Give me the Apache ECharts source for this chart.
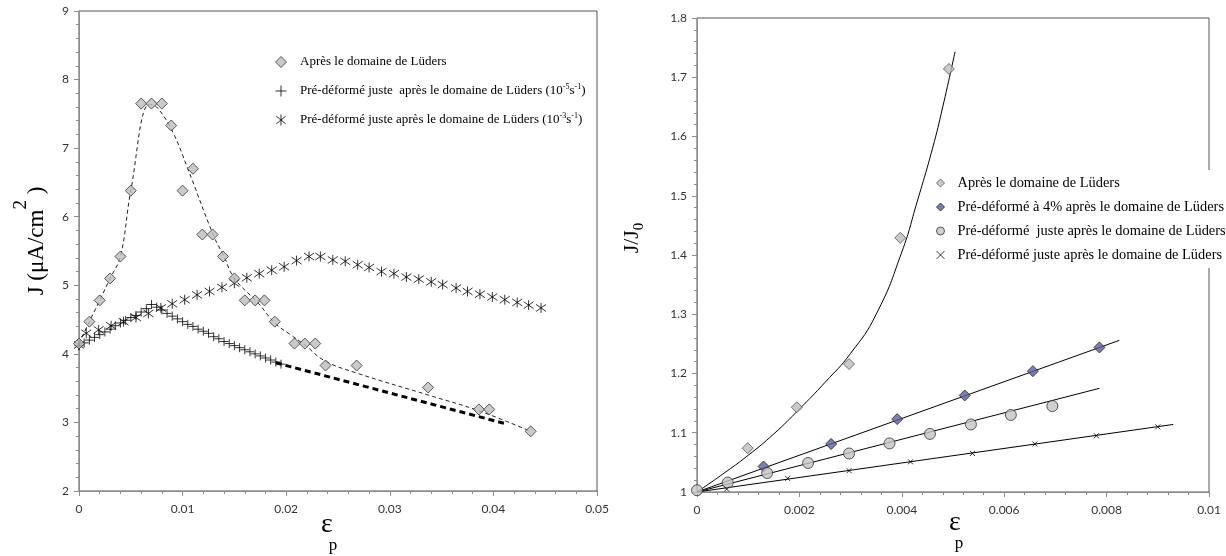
<!DOCTYPE html>
<html><head><meta charset="utf-8">
<script src="https://cdn.jsdelivr.net/npm/echarts@6.0.0/dist/echarts.min.js"></script>
<style>html,body{margin:0;padding:0;background:#fff}#c{width:1226px;height:556px}</style>
</head><body><div id="c"></div>
<script>
// ---------- Left chart data ----------
const leftAfterX = [0, 0.001, 0.002, 0.003, 0.004, 0.005, 0.006, 0.007, 0.008, 0.0089, 0.010, 0.011, 0.0119, 0.0129, 0.0139, 0.015, 0.016, 0.017, 0.0179, 0.0189, 0.0208, 0.0218, 0.0228, 0.0238, 0.0268, 0.0337, 0.0386, 0.0396, 0.0436];
const leftAfterY = [4.15, 4.47, 4.78, 5.10, 5.42, 6.38, 7.65, 7.65, 7.65, 7.33, 6.38, 6.70, 5.74, 5.74, 5.42, 5.10, 4.78, 4.78, 4.78, 4.47, 4.15, 4.15, 4.15, 3.83, 3.83, 3.51, 3.19, 3.19, 2.87];
const leftTrendX = [0, 0.001, 0.002, 0.003, 0.004, 0.005, 0.0068, 0.0075, 0.009, 0.0105, 0.013, 0.014, 0.015, 0.0173, 0.0189, 0.0205, 0.0218, 0.0237, 0.0268, 0.0337, 0.0386, 0.0436];
const leftTrendY = [4.15, 4.47, 4.78, 5.10, 5.42, 6.38, 7.64, 7.60, 7.25, 6.70, 5.72, 5.42, 5.10, 4.74, 4.45, 4.27, 4.13, 3.90, 3.72, 3.40, 3.17, 2.87];
const leftSlowX = [0,0.0005,0.001,0.0015,0.002,0.0025,0.003,0.0035,0.004,0.0045,0.005,0.0055,0.006,0.0065,0.007,0.0075,0.008,0.0085,0.009,0.0095,0.01,0.0105,0.011,0.0115,0.012,0.0125,0.013,0.0135,0.014,0.0145,0.015,0.0155,0.016,0.0165,0.017,0.0175,0.018,0.0185,0.019,0.0195];
const leftSlowY = [4.12,4.16,4.20,4.24,4.28,4.32,4.36,4.41,4.45,4.49,4.53,4.56,4.61,4.66,4.72,4.68,4.64,4.59,4.55,4.51,4.47,4.43,4.40,4.36,4.33,4.30,4.25,4.22,4.18,4.15,4.12,4.09,4.06,4.03,4.00,3.97,3.94,3.91,3.88,3.85];
const leftSlowExtX = [0.019, 0.0412];
const leftSlowExtY = [3.87, 2.98];
const leftFastX = [0, 0.0007, 0.0019, 0.0031, 0.0043, 0.0055, 0.0067, 0.0079, 0.0090, 0.0102, 0.0114, 0.0126, 0.0138, 0.0150, 0.0162, 0.0174, 0.0186, 0.0198, 0.0210, 0.0222, 0.0233, 0.0245, 0.0257, 0.0269, 0.0280, 0.0292, 0.0304, 0.0316, 0.0328, 0.0340, 0.0351, 0.0364, 0.0375, 0.0387, 0.0399, 0.0411, 0.0423, 0.0434, 0.0446];
const leftFastY = [4.13, 4.30, 4.35, 4.41, 4.47, 4.53, 4.59, 4.67, 4.73, 4.79, 4.86, 4.91, 4.97, 5.03, 5.11, 5.17, 5.22, 5.27, 5.36, 5.42, 5.42, 5.37, 5.35, 5.30, 5.26, 5.20, 5.17, 5.12, 5.09, 5.05, 5.01, 4.96, 4.91, 4.87, 4.83, 4.79, 4.75, 4.71, 4.67];

// ---------- Right chart data ----------
const rAfterX = [0.00099, 0.00195, 0.00297, 0.00397, 0.00492];
const rAfterY = [1.074, 1.143, 1.216, 1.429, 1.714];
const rAfterFitX = [0, 0.0005, 0.001, 0.0015, 0.002, 0.0025, 0.003, 0.0035, 0.004, 0.0043, 0.0046, 0.0048, 0.00504];
const rAfterFitY = [1.0, 1.030, 1.062, 1.098, 1.140, 1.185, 1.234, 1.300, 1.405, 1.490, 1.580, 1.650, 1.743];
const rPre4X = [0.0013, 0.00262, 0.00391, 0.00523, 0.00656, 0.00786];
const rPre4Y = [1.043, 1.081, 1.123, 1.163, 1.204, 1.244];
const rPre4FitX = [0, 0.00825];
const rPre4FitY = [1.0, 1.256];
const rJustX = [0, 0.0006, 0.00137, 0.00217, 0.00297, 0.00376, 0.00455, 0.00535, 0.00613, 0.00694];
const rJustY = [1.003, 1.016, 1.032, 1.049, 1.065, 1.082, 1.098, 1.114, 1.130, 1.145];
const rJustFitX = [0, 0.00786];
const rJustFitY = [1.0, 1.175];
const rFastX = [0.00058, 0.00177, 0.00297, 0.00417, 0.00538, 0.0066, 0.0078, 0.0090];
const rFastY = [1.005, 1.023, 1.036, 1.051, 1.065, 1.081, 1.095, 1.110];
const rFastFitX = [0, 0.0093];
const rFastFitY = [1.0, 1.114];

// ---------- Texts ----------
const legendText = {
  L1: '{t|Après le domaine de Lüders}',
  L2: '{t|Pré-déformé juste  après le domaine de Lüders (10}{s|-5}{t|s}{s|-1}{t|)}',
  L3: '{t|Pré-déformé juste après le domaine de Lüders (10}{s|-3}{t|s}{s|-1}{t|)}',
  R1: '{t|Après le domaine de Lüders}',
  R2: '{t|Pré-déformé à 4% après le domaine de Lüders}',
  R3: '{t|Pré-déformé  juste après le domaine de Lüders}',
  R4: '{t|Pré-déformé juste après le domaine de Lüders}'
};

const pairs = (xs, ys) => xs.map((x, i) => [x, ys[i]]);
const SERIF = 'Liberation Serif';
const AX = '#8c8c8c';
const PLUS = 'path://M5,0L5,10M0,5L10,5';
const STAR = 'path://M5,0L5,10M0.7,1.5L9.3,8.5M9.3,1.5L0.7,8.5';
const XMARK = 'path://M0,0L10,10M10,0L0,10';
const DIAM = 'path://M5,0L10,5L5,10L0,5Z';

function xAxisCfg(gi, max, interval) {
  return {
    gridIndex: gi, type: 'value', min: 0, max: max, interval: interval,
    axisLine: { show: true, onZero: false, lineStyle: { color: AX } },
    axisTick: { show: true, length: 5, lineStyle: { color: AX } },
    minorTick: { show: true, splitNumber: 5, length: 3, lineStyle: { color: AX } },
    splitLine: { show: false },
    axisLabel: { fontFamily: 'Lato', fontSize: 12, color: '#333', margin: 12 }
  };
}
function yAxisCfg(gi, min, max, interval) {
  return {
    gridIndex: gi, type: 'value', min: min, max: max, interval: interval,
    axisLine: { show: true, onZero: false, lineStyle: { color: AX } },
    axisTick: { show: true, length: 5, lineStyle: { color: AX } },
    minorTick: { show: true, splitNumber: 5, length: 3, lineStyle: { color: AX } },
    splitLine: { show: false },
    axisLabel: { fontFamily: 'Lato', fontSize: 12, color: '#333', margin: 10 }
  };
}

const legendRich = (fs, lh) => ({
  t: { fontFamily: SERIF, fontSize: fs, color: '#000', lineHeight: lh },
  s: { fontFamily: SERIF, fontSize: Math.round(fs * 0.62), color: '#000', lineHeight: 8, verticalAlign: 'top' }
});

const option = {
  animation: false,
  backgroundColor: '#fff',
  grid: [
    { left: 79, top: 11, width: 518, height: 480, show: true, borderColor: '#555', borderWidth: 1, backgroundColor: 'transparent', outerBoundsMode: 'none' },
    { left: 697, top: 18, width: 512, height: 474, show: true, borderColor: '#555', borderWidth: 1, backgroundColor: 'transparent', outerBoundsMode: 'none' }
  ],
  xAxis: [xAxisCfg(0, 0.05, 0.01), xAxisCfg(1, 0.01, 0.002)],
  yAxis: [yAxisCfg(0, 2, 9, 1), yAxisCfg(1, 1, 1.8, 0.1)],
  legend: [
    {
      data: ['L1', 'L2', 'L3'], orient: 'vertical', left: 273, top: 54, padding: 0,
      itemWidth: 28, itemHeight: 11, itemGap: 13, selectedMode: false, symbolKeepAspect: true,
      itemStyle: { borderWidth: 1 },
      formatter: n => legendText[n],
      textStyle: { fontFamily: SERIF, fontSize: 13, color: '#000', lineHeight: 16, rich: legendRich(13, 16) }
    },
    {
      data: ['R1', 'R2', 'R3', 'R4'], orient: 'vertical', left: 929, top: 170, padding: [5, 40, 5, 5],
      backgroundColor: '#fff', symbolKeepAspect: true,
      itemWidth: 24, itemHeight: 8, itemGap: 8, selectedMode: false,
      itemStyle: { borderWidth: 1 },
      formatter: n => legendText[n],
      textStyle: { fontFamily: SERIF, fontSize: 14.4, color: '#000', lineHeight: 16, rich: legendRich(14.4, 16) }
    }
  ],
  graphic: { elements: [
    { type: 'text', x: 37, y: 241, rotation: Math.PI / 2,
      style: { text: '{a|J (μA/cm}{s|2}{a| )}', align: 'center', verticalAlign: 'middle',
        rich: { a: { fontFamily: SERIF, fontSize: 23, lineHeight: 50, fill: '#000' },
                s: { fontFamily: SERIF, fontSize: 19, lineHeight: 18, verticalAlign: 'top', fill: '#000' } } } },
    { type: 'text', x: 327, y: 514,
      style: { text: '{e|ε}\n{p|p}', align: 'center', verticalAlign: 'top',
        rich: { e: { fontFamily: SERIF, fontSize: 28, lineHeight: 22, fill: '#000' },
                p: { fontFamily: SERIF, fontSize: 17, lineHeight: 20, padding: [0, 0, 0, 12], fill: '#000' } } } },
    { type: 'text', x: 632, y: 238, rotation: Math.PI / 2,
      style: { text: '{a|J/J}{b|0}', align: 'center', verticalAlign: 'middle',
        rich: { a: { fontFamily: SERIF, fontSize: 22, lineHeight: 30, fill: '#000' },
                b: { fontFamily: SERIF, fontSize: 15, lineHeight: 15, verticalAlign: 'bottom', fill: '#000' } } } },
    { type: 'text', x: 955, y: 512,
      style: { text: '{e|ε}\n{p|p}', align: 'center', verticalAlign: 'top',
        rich: { e: { fontFamily: SERIF, fontSize: 28, lineHeight: 22, fill: '#000' },
                p: { fontFamily: SERIF, fontSize: 17, lineHeight: 20, padding: [0, 0, 0, 8], fill: '#000' } } } }
  ] },
  series: [
    // left chart lines
    { name: 'trend1', type: 'line', xAxisIndex: 0, yAxisIndex: 0, data: pairs(leftTrendX, leftTrendY),
      showSymbol: false, smooth: 0.4, lineStyle: { color: '#222', width: 1, type: [4, 3] }, z: 2 },
    { name: 'ext2', type: 'line', xAxisIndex: 0, yAxisIndex: 0, data: pairs(leftSlowExtX, leftSlowExtY),
      showSymbol: false, lineStyle: { color: '#000', width: 3, type: [6, 4] }, z: 2 },
    // left markers
    { name: 'L3', type: 'scatter', xAxisIndex: 0, yAxisIndex: 0, data: pairs(leftFastX, leftFastY),
      symbol: STAR, symbolSize: [10, 10], itemStyle: { color: 'none', borderColor: '#000', borderWidth: 1 }, z: 3 },
    { name: 'L2', type: 'scatter', xAxisIndex: 0, yAxisIndex: 0, data: pairs(leftSlowX, leftSlowY),
      symbol: PLUS, symbolSize: [9, 9], itemStyle: { color: 'none', borderColor: '#000', borderWidth: 1 }, z: 3 },
    { name: 'L1', type: 'scatter', xAxisIndex: 0, yAxisIndex: 0, data: pairs(leftAfterX, leftAfterY),
      symbol: DIAM, symbolSize: [11, 11], itemStyle: { color: '#bdbdbd', borderColor: '#333', borderWidth: 1 }, z: 4 },
    // right chart lines
    { name: 'fitA', type: 'line', xAxisIndex: 1, yAxisIndex: 1, data: pairs(rAfterFitX, rAfterFitY),
      showSymbol: false, smooth: 0.5, lineStyle: { color: '#000', width: 1 }, z: 2 },
    { name: 'fitB', type: 'line', xAxisIndex: 1, yAxisIndex: 1, data: pairs(rPre4FitX, rPre4FitY),
      showSymbol: false, lineStyle: { color: '#000', width: 1 }, z: 2 },
    { name: 'fitC', type: 'line', xAxisIndex: 1, yAxisIndex: 1, data: pairs(rJustFitX, rJustFitY),
      showSymbol: false, lineStyle: { color: '#000', width: 1 }, z: 2 },
    { name: 'fitD', type: 'line', xAxisIndex: 1, yAxisIndex: 1, data: pairs(rFastFitX, rFastFitY),
      showSymbol: false, lineStyle: { color: '#000', width: 1 }, z: 2 },
    // right markers
    { name: 'R1', type: 'scatter', xAxisIndex: 1, yAxisIndex: 1, data: pairs(rAfterX, rAfterY),
      symbol: DIAM, symbolSize: [11, 11], itemStyle: { color: '#bdbdbd', borderColor: '#555', borderWidth: 1 }, z: 4 },
    { name: 'R2', type: 'scatter', xAxisIndex: 1, yAxisIndex: 1, data: pairs(rPre4X, rPre4Y),
      symbol: DIAM, symbolSize: [11, 11], itemStyle: { color: '#5b5e96', borderColor: '#222', borderWidth: 1 }, z: 4 },
    { name: 'R3', type: 'scatter', xAxisIndex: 1, yAxisIndex: 1, data: pairs(rJustX, rJustY),
      symbol: 'circle', symbolSize: 11, itemStyle: { color: '#c4c4c4', borderColor: '#333', borderWidth: 1 }, z: 4 },
    { name: 'R4', type: 'scatter', xAxisIndex: 1, yAxisIndex: 1, data: pairs(rFastX, rFastY),
      symbol: XMARK, symbolSize: [5, 5], itemStyle: { color: 'none', borderColor: '#000', borderWidth: 1 }, z: 4 }
  ]
};
const chart = echarts.init(document.getElementById('c'), null, { renderer: 'canvas' });
chart.setOption(option);
</script>
</body></html>
